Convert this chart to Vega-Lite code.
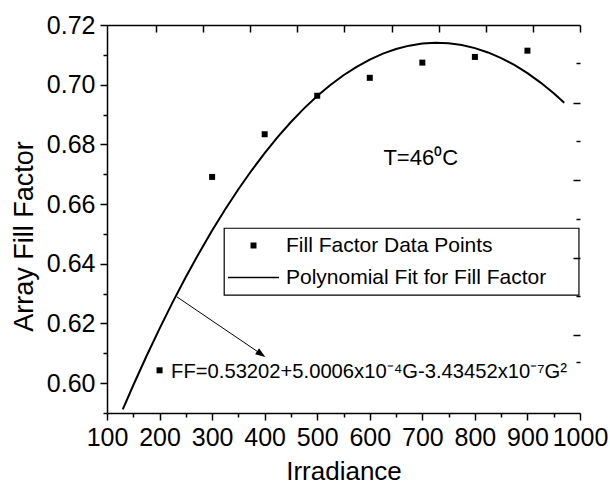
{
  "$schema": "https://vega.github.io/schema/vega-lite/v6.json",
  "width": 473,
  "height": 388,
  "autosize": {"type": "none"},
  "padding": {"left": 107, "top": 25, "right": 30, "bottom": 75},
  "background": "white",
  "config": {
    "font": "Liberation Sans",
    "view": {"stroke": null},
    "axis": {"labelColor": "black", "titleColor": "black", "domainColor": "black", "tickColor": "black", "grid": false, "titleFontWeight": "normal", "labelFlush": false, "labelOverlap": false}
  },
  "datasets": {
    "curve": [
      {"G": 130, "FF": 0.59122}, {"G": 150, "FF": 0.59930}, {"G": 175, "FF": 0.60901}, {"G": 200, "FF": 0.61829},
      {"G": 225, "FF": 0.62715}, {"G": 250, "FF": 0.63557}, {"G": 275, "FF": 0.64356}, {"G": 300, "FF": 0.65113},
      {"G": 325, "FF": 0.65826}, {"G": 350, "FF": 0.66497}, {"G": 375, "FF": 0.67124}, {"G": 400, "FF": 0.67709},
      {"G": 425, "FF": 0.68251}, {"G": 450, "FF": 0.68750}, {"G": 475, "FF": 0.69206}, {"G": 500, "FF": 0.69619},
      {"G": 525, "FF": 0.69989}, {"G": 550, "FF": 0.70316}, {"G": 575, "FF": 0.70600}, {"G": 600, "FF": 0.70841},
      {"G": 625, "FF": 0.71040}, {"G": 650, "FF": 0.71195}, {"G": 675, "FF": 0.71308}, {"G": 700, "FF": 0.71377},
      {"G": 725, "FF": 0.71404}, {"G": 750, "FF": 0.71387}, {"G": 775, "FF": 0.71328}, {"G": 800, "FF": 0.71226},
      {"G": 825, "FF": 0.71081}, {"G": 850, "FF": 0.70893}, {"G": 875, "FF": 0.70662}, {"G": 900, "FF": 0.70388},
      {"G": 925, "FF": 0.70071}, {"G": 950, "FF": 0.69711}, {"G": 970, "FF": 0.69392}
    ],
    "points": [
      {"G": 200, "FF": 0.6043, "series": "Fill Factor Data Points"},
      {"G": 300, "FF": 0.6691, "series": "Fill Factor Data Points"},
      {"G": 400, "FF": 0.6834, "series": "Fill Factor Data Points"},
      {"G": 500, "FF": 0.6963, "series": "Fill Factor Data Points"},
      {"G": 600, "FF": 0.7023, "series": "Fill Factor Data Points"},
      {"G": 700, "FF": 0.7074, "series": "Fill Factor Data Points"},
      {"G": 800, "FF": 0.7093, "series": "Fill Factor Data Points"},
      {"G": 900, "FF": 0.7114, "series": "Fill Factor Data Points"}
    ]
  },
  "resolve": {"axis": {"x": "independent", "y": "independent"}},
  "layer": [
    {
      "data": {"name": "curve"},
      "mark": {"type": "line", "color": "black", "strokeWidth": 2},
      "encoding": {
        "x": {"field": "G", "type": "quantitative", "scale": {"domain": [100, 1000], "nice": false, "zero": false},
          "axis": {"orient": "bottom", "title": "Irradiance", "titleFontSize": 26, "titlePadding": 8,
            "values": [100,150,200,250,300,350,400,450,500,550,600,650,700,750,800,850,900,950,1000],
            "format": "d", "labelExpr": "datum.value % 100 == 0 ? datum.label : ''",
            "labelFontSize": 25, "labelPadding": 5, "domainWidth": 1.5, "tickWidth": 1.5,
            "tickSize": {"condition": {"test": "datum.value % 100 == 0", "value": 7}, "value": 4}}},
        "y": {"field": "FF", "type": "quantitative", "scale": {"domain": [0.59, 0.72], "nice": false, "zero": false},
          "axis": {"orient": "left", "title": "Array Fill Factor", "titleFontSize": 27, "titlePadding": 8, "titleY": 211,
            "values": [0.59,0.6,0.61,0.62,0.63,0.64,0.65,0.66,0.67,0.68,0.69,0.7,0.71,0.72],
            "labelExpr": "round(datum.value*100) % 2 == 0 ? format(datum.value, '.2f') : ''",
            "labelFontSize": 25, "labelPadding": 5, "domainWidth": 1.5, "tickWidth": 1.5,
            "tickSize": {"condition": {"test": "round(datum.value*100) % 2 == 0", "value": 7}, "value": 4}}}
      }
    },
    {
      "data": {"name": "points"},
      "mark": {"type": "point", "filled": true, "color": "black", "opacity": 1, "size": 36},
      "encoding": {
        "x": {"field": "G", "type": "quantitative", "axis": null},
        "y": {"field": "FF", "type": "quantitative", "axis": null},
        "shape": {"field": "series", "type": "nominal",
          "scale": {"domain": ["Fill Factor Data Points", "Polynomial Fit for Fill Factor"], "range": ["square", "M-8.5,-0.27H8.5V0.27H-8.5Z"]},
          "legend": {"title": null, "orient": "none", "legendX": 136, "legendY": 210, "padding": 0,
            "labelFontSize": 21, "labelColor": "black", "labelOffset": 22, "labelLimit": 500, "symbolSize": 36, "rowPadding": 10,
            "symbolFillColor": "black", "symbolOpacity": 1}}
      }
    },
    {
      "data": {"values": [{}]},
      "mark": {"type": "rect", "fill": null, "stroke": "black", "strokeWidth": 1.2},
      "encoding": {
        "x": {"datum": 323, "type": "quantitative",
          "axis": {"orient": "top", "title": null, "labels": false, "domainWidth": 1.5, "tickWidth": 1.5, "tickSize": -7,
            "values": [193.4, 283.1, 372.7, 462.3, 551.9, 641.6, 731.2, 820.8, 910.4, 1000]}},
        "x2": {"datum": 998},
        "y": {"datum": 0.6519, "type": "quantitative",
          "axis": {"orient": "right", "title": null, "labels": false, "domain": false, "tickWidth": 1.5,
            "values": [0.70726, 0.69385, 0.68111, 0.66804, 0.65496, 0.64189, 0.62915, 0.61608, 0.60703],
            "tickSize": {"condition": {"test": "abs(datum.value-0.69385)<0.001 || abs(datum.value-0.66804)<0.001 || abs(datum.value-0.64189)<0.001 || abs(datum.value-0.61608)<0.001", "value": -7}, "value": -4}}},
        "y2": {"datum": 0.6295}
      }
    },
    {
      "data": {"values": [{}]},
      "mark": {"type": "rule", "color": "black", "strokeWidth": 1},
      "encoding": {
        "x": {"datum": 232.9, "type": "quantitative", "axis": null},
        "y": {"datum": 0.62892, "type": "quantitative", "axis": null},
        "x2": {"datum": 398},
        "y2": {"datum": 0.60920}
      }
    },
    {
      "data": {"values": [{}]},
      "mark": {"type": "point", "shape": "M0,0L-2,-0.7L-2,0.7Z", "size": 100, "angle": 34.2, "filled": true, "color": "black", "opacity": 1},
      "encoding": {
        "x": {"datum": 401.3, "type": "quantitative", "axis": null},
        "y": {"datum": 0.6088, "type": "quantitative", "axis": null}
      }
    },
    {
      "data": {"values": [{}]},
      "mark": {"type": "text", "text": "T=46⁰C", "fontSize": 22, "align": "center", "baseline": "middle", "color": "black"},
      "encoding": {
        "x": {"datum": 697, "type": "quantitative", "axis": null},
        "y": {"datum": 0.6754, "type": "quantitative", "axis": null}
      }
    },
    {
      "data": {"values": [{}]},
      "mark": {"type": "text", "text": "FF=0.53202+5.0006x10⁻⁴G-3.43452x10⁻⁷G²", "fontSize": 20.2, "align": "left", "baseline": "alphabetic", "color": "black"},
      "encoding": {
        "x": {"datum": 222, "type": "quantitative", "axis": null},
        "y": {"datum": 0.6017, "type": "quantitative", "axis": null}
      }
    }
  ]
}
